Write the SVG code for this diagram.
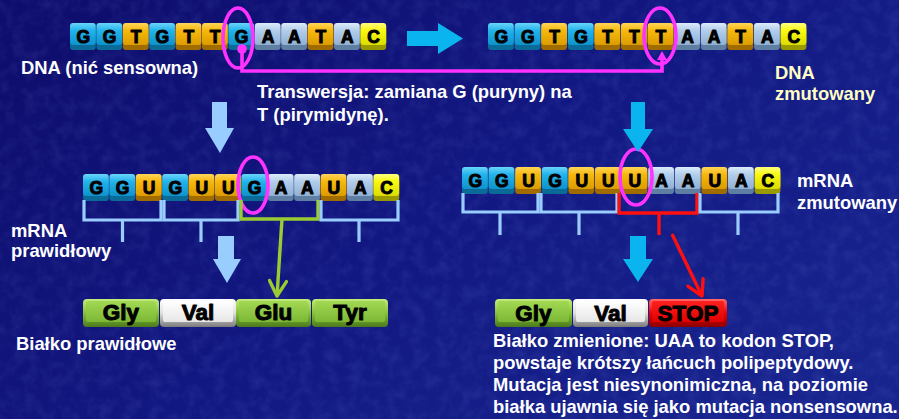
<svg xmlns="http://www.w3.org/2000/svg" xmlns:xlink="http://www.w3.org/1999/xlink" width="899" height="419" viewBox="0 0 899 419">
<defs>
<style>
.lbl{font-family:"Liberation Sans",Arial,sans-serif;font-weight:bold;font-size:18.4px;fill:#ffffff}
.lblY{font-family:"Liberation Sans",Arial,sans-serif;font-weight:bold;font-size:18.4px;fill:#ffffc4}
.base{font-family:"Liberation Sans",Arial,sans-serif;font-weight:bold;font-size:17.5px;fill:#000;text-anchor:middle;stroke:#000;stroke-width:1px;stroke-linejoin:round}
.aa{font-family:"Liberation Sans",Arial,sans-serif;font-weight:bold;font-size:22.5px;fill:#000;text-anchor:middle;stroke:#000;stroke-width:1px;stroke-linejoin:round}
.brB{fill:none;stroke:#99ccff;stroke-width:3.2}
.brG{fill:none;stroke:#99cc33;stroke-width:3.4}
.brR{fill:none;stroke:#ff1010;stroke-width:3.4}
.arLB{fill:#99ccff}
.arC{fill:#0ab4ee}
.mag{fill:none;stroke:#ff33ff;stroke-width:3.6}
</style>
<linearGradient id="bg" x1="0" y1="0.2" x2="1" y2="0.8">
<stop offset="0" stop-color="#0e0e6e"/><stop offset="0.5" stop-color="#121882"/><stop offset="1" stop-color="#18248e"/>
</linearGradient>
<filter id="noise" x="0" y="0" width="1" height="1">
<feTurbulence type="fractalNoise" baseFrequency="0.08" numOctaves="3" seed="7"/>
<feColorMatrix type="matrix" values="0 0 0 0 0.3  0 0 0 0 0.4  0 0 0 0 1  0 0 0 -0.9 0.55"/>
</filter>
<linearGradient id="gG" x1="0" y1="0" x2="0" y2="1"><stop offset="0" stop-color="#6ad6fa"/><stop offset="0.35" stop-color="#22b2ea"/><stop offset="1" stop-color="#0e92cc"/></linearGradient>
<linearGradient id="gT" x1="0" y1="0" x2="0" y2="1"><stop offset="0" stop-color="#ffd65a"/><stop offset="0.35" stop-color="#f6b80c"/><stop offset="1" stop-color="#dc9c00"/></linearGradient>
<linearGradient id="gA" x1="0" y1="0" x2="0" y2="1"><stop offset="0" stop-color="#dcebfa"/><stop offset="0.35" stop-color="#b2cdea"/><stop offset="1" stop-color="#90b0d4"/></linearGradient>
<linearGradient id="gC" x1="0" y1="0" x2="0" y2="1"><stop offset="0" stop-color="#ffff80"/><stop offset="0.35" stop-color="#f8f810"/><stop offset="1" stop-color="#dcdc00"/></linearGradient>
<symbol id="tG" overflow="visible"><rect y="4" width="25.8" height="23" rx="3" fill="#0a6a98"/><rect width="25.8" height="22" rx="3" fill="url(#gG)"/></symbol>
<symbol id="tT" overflow="visible"><rect y="4" width="25.8" height="23" rx="3" fill="#a06c00"/><rect width="25.8" height="22" rx="3" fill="url(#gT)"/></symbol>
<symbol id="tA" overflow="visible"><rect y="4" width="25.8" height="23" rx="3" fill="#5e7ea2"/><rect width="25.8" height="22" rx="3" fill="url(#gA)"/></symbol>
<symbol id="tC" overflow="visible"><rect y="4" width="25.8" height="23" rx="3" fill="#9a9a00"/><rect width="25.8" height="22" rx="3" fill="url(#gC)"/></symbol>
<linearGradient id="pGo" x1="0" y1="0" x2="0" y2="1"><stop offset="0" stop-color="#c4ec7c"/><stop offset="0.5" stop-color="#86c23a"/><stop offset="1" stop-color="#4c7a1c"/></linearGradient>
<linearGradient id="pGi" x1="0" y1="0" x2="0" y2="1"><stop offset="0" stop-color="#a2d854"/><stop offset="1" stop-color="#7cb834"/></linearGradient>
<linearGradient id="pWo" x1="0" y1="0" x2="0" y2="1"><stop offset="0" stop-color="#ffffff"/><stop offset="0.5" stop-color="#e0e0e0"/><stop offset="1" stop-color="#7a7a7a"/></linearGradient>
<linearGradient id="pWi" x1="0" y1="0" x2="0" y2="1"><stop offset="0" stop-color="#ffffff"/><stop offset="1" stop-color="#e6e6e6"/></linearGradient>
<linearGradient id="pRo" x1="0" y1="0" x2="0" y2="1"><stop offset="0" stop-color="#ff6a6a"/><stop offset="0.5" stop-color="#f00000"/><stop offset="1" stop-color="#8a0000"/></linearGradient>
<linearGradient id="pRi" x1="0" y1="0" x2="0" y2="1"><stop offset="0" stop-color="#ff2020"/><stop offset="1" stop-color="#e00000"/></linearGradient>
<marker id="mGreen" markerUnits="userSpaceOnUse" viewBox="-18 -10 20 20" refX="0" refY="0" markerWidth="20" markerHeight="20" orient="auto"><path d="M-15,-8.5 L0,0 L-15,8.5" fill="none" stroke="#99cc33" stroke-width="3.4" stroke-linecap="round" stroke-linejoin="round"/></marker>
<marker id="mRed" markerUnits="userSpaceOnUse" viewBox="-18 -10 20 20" refX="0" refY="0" markerWidth="20" markerHeight="20" orient="auto"><path d="M-15,-8.5 L0,0 L-15,8.5" fill="none" stroke="#ff1010" stroke-width="3.4" stroke-linecap="round" stroke-linejoin="round"/></marker>
</defs>

<rect width="899" height="419" fill="url(#bg)"/>
<rect width="899" height="419" filter="url(#noise)" opacity="0.22"/>

<g id="dna-sense">
<use href="#tG" x="70" y="23"/><use href="#tG" x="96.4" y="23"/><use href="#tT" x="122.8" y="23"/><use href="#tG" x="149.2" y="23"/><use href="#tT" x="175.6" y="23"/><use href="#tT" x="202" y="23"/><use href="#tG" x="228.4" y="23"/><use href="#tA" x="254.8" y="23"/><use href="#tA" x="281.2" y="23"/><use href="#tT" x="307.6" y="23"/><use href="#tA" x="334" y="23"/><use href="#tC" x="360.4" y="23"/>
<text class="base" x="83.2" y="43">G</text><text class="base" x="109.6" y="43">G</text><text class="base" x="136" y="43">T</text><text class="base" x="162.4" y="43">G</text><text class="base" x="188.8" y="43">T</text><text class="base" x="215.2" y="43">T</text><text class="base" x="241.6" y="43">G</text><text class="base" x="268" y="43">A</text><text class="base" x="294.4" y="43">A</text><text class="base" x="320.8" y="43">T</text><text class="base" x="347.2" y="43">A</text><text class="base" x="373.6" y="43">C</text>
<ellipse class="mag" cx="238" cy="38" rx="15" ry="30"/>
<text class="lbl" x="21" y="74">DNA (nić sensowna)</text>
</g>

<g id="dna-mutant">
<use href="#tG" x="488" y="23"/><use href="#tG" x="514.6" y="23"/><use href="#tT" x="541.2" y="23"/><use href="#tG" x="567.8" y="23"/><use href="#tT" x="594.4" y="23"/><use href="#tT" x="621" y="23"/><use href="#tT" x="647.6" y="23"/><use href="#tA" x="674.2" y="23"/><use href="#tA" x="700.8" y="23"/><use href="#tT" x="727.4" y="23"/><use href="#tA" x="754" y="23"/><use href="#tC" x="780.6" y="23"/>
<text class="base" x="501.3" y="43">G</text><text class="base" x="527.9" y="43">G</text><text class="base" x="554.5" y="43">T</text><text class="base" x="581.1" y="43">G</text><text class="base" x="607.7" y="43">T</text><text class="base" x="634.3" y="43">T</text><text class="base" x="660.9" y="43">T</text><text class="base" x="687.5" y="43">A</text><text class="base" x="714.1" y="43">A</text><text class="base" x="740.7" y="43">T</text><text class="base" x="767.3" y="43">A</text><text class="base" x="793.9" y="43">C</text>
<ellipse class="mag" cx="660" cy="36" rx="16" ry="28"/>
<text class="lblY" x="775" y="79">DNA</text>
<text class="lblY" x="775" y="100">zmutowany</text>
</g>

<g id="transversion-label">
<text class="lbl" x="257" y="98">Transwersja: zamiana G (puryny) na</text>
<text class="lbl" x="257" y="121">T (pirymidynę).</text>
</g>

<g id="mrna-normal">
<use href="#tG" x="83" y="174"/><use href="#tG" x="109.4" y="174"/><use href="#tT" x="135.8" y="174"/><use href="#tG" x="162.2" y="174"/><use href="#tT" x="188.6" y="174"/><use href="#tT" x="215" y="174"/><use href="#tG" x="241.4" y="174"/><use href="#tA" x="267.8" y="174"/><use href="#tA" x="294.2" y="174"/><use href="#tT" x="320.6" y="174"/><use href="#tA" x="347" y="174"/><use href="#tC" x="373.4" y="174"/>
<text class="base" x="96.2" y="194">G</text><text class="base" x="122.6" y="194">G</text><text class="base" x="149" y="194">U</text><text class="base" x="175.4" y="194">G</text><text class="base" x="201.8" y="194">U</text><text class="base" x="228.2" y="194">U</text><text class="base" x="254.6" y="194">G</text><text class="base" x="281" y="194">A</text><text class="base" x="307.4" y="194">A</text><text class="base" x="333.8" y="194">U</text><text class="base" x="360.2" y="194">A</text><text class="base" x="386.6" y="194">C</text>
<ellipse class="mag" cx="253" cy="185" rx="15" ry="28"/>
<path class="brB" d="M84,200 V220 H161 V200 M122.5,220 V242"/>
<path class="brB" d="M164,200 V220 H238 V200 M201,220 V242"/>
<path class="brG" d="M241,200 V219 H318 V200"/>
<path class="brB" d="M321,200 V220 H398 V200 M359,220 V242"/>
<text class="lbl" x="11" y="237">mRNA</text>
<text class="lbl" x="11" y="257">prawidłowy</text>
</g>

<g id="mrna-mutant">
<use href="#tG" x="462" y="167"/><use href="#tG" x="488.6" y="167"/><use href="#tT" x="515.2" y="167"/><use href="#tG" x="541.8" y="167"/><use href="#tT" x="568.4" y="167"/><use href="#tT" x="595" y="167"/><use href="#tT" x="621.6" y="167"/><use href="#tA" x="648.2" y="167"/><use href="#tA" x="674.8" y="167"/><use href="#tT" x="701.4" y="167"/><use href="#tA" x="728" y="167"/><use href="#tC" x="754.6" y="167"/>
<text class="base" x="475.3" y="187">G</text><text class="base" x="501.9" y="187">G</text><text class="base" x="528.5" y="187">U</text><text class="base" x="555.1" y="187">G</text><text class="base" x="581.7" y="187">U</text><text class="base" x="608.3" y="187">U</text><text class="base" x="634.9" y="187">U</text><text class="base" x="661.5" y="187">A</text><text class="base" x="688.1" y="187">A</text><text class="base" x="714.7" y="187">U</text><text class="base" x="741.3" y="187">A</text><text class="base" x="767.9" y="187">C</text>
<ellipse class="mag" cx="636" cy="177" rx="16" ry="28"/>
<path class="brB" d="M463,193 V212 H538 V193 M500,212 V235"/>
<path class="brB" d="M541,193 V212 H617 V193 M579,212 V235"/>
<path class="brR" d="M619,193 V213 H697 V193 M659,213 V235"/>
<path class="brB" d="M700,193 V212 H778 V193 M738,212 V235"/>
<text class="lbl" x="797" y="187">mRNA</text>
<text class="lbl" x="797" y="209">zmutowany</text>
</g>

<g id="protein-normal">
<rect x="83" y="299" width="76" height="28" rx="4" fill="url(#pGo)"/><rect x="86" y="301" width="70" height="21" rx="2" fill="url(#pGi)"/>
<rect x="160" y="299" width="76" height="28" rx="4" fill="url(#pWo)"/><rect x="163" y="301" width="70" height="21" rx="2" fill="url(#pWi)"/>
<rect x="236" y="299" width="75" height="28" rx="4" fill="url(#pGo)"/><rect x="239" y="301" width="69" height="21" rx="2" fill="url(#pGi)"/>
<rect x="312" y="299" width="76" height="28" rx="4" fill="url(#pGo)"/><rect x="315" y="301" width="70" height="21" rx="2" fill="url(#pGi)"/>
<text class="aa" x="121" y="320">Gly</text>
<text class="aa" x="198" y="320">Val</text>
<text class="aa" x="273.5" y="320">Glu</text>
<text class="aa" x="350" y="320">Tyr</text>
<text class="lbl" x="16" y="350">Białko prawidłowe</text>
</g>

<g id="protein-mutant">
<rect x="495" y="299" width="77" height="28" rx="4" fill="url(#pGo)"/><rect x="498" y="301" width="71" height="21" rx="2" fill="url(#pGi)"/>
<rect x="573" y="299" width="75" height="28" rx="4" fill="url(#pWo)"/><rect x="576" y="301" width="69" height="21" rx="2" fill="url(#pWi)"/>
<rect x="649" y="299" width="78" height="28" rx="4" fill="url(#pRo)"/><rect x="652" y="301" width="72" height="21" rx="2" fill="url(#pRi)"/>
<text class="aa" x="533.5" y="321">Gly</text>
<text class="aa" x="610.5" y="321">Val</text>
<text class="aa" x="688" y="321">STOP</text>
<text class="lbl" x="493" y="347">Białko zmienione: UAA to kodon STOP,</text>
<text class="lbl" x="493" y="369">powstaje krótszy łańcuch polipeptydowy.</text>
<text class="lbl" x="493" y="391">Mutacja jest niesynonimiczna, na poziomie</text>
<text class="lbl" x="493" y="413">białka ujawnia się jako mutacja nonsensowna.</text>
</g>

<g id="connectors">
<polygon class="arC" points="407,31 438,31 438,23 463,38.5 438,54 438,46 407,46"/>
<polygon class="arLB" points="212,102 227,102 227,128 234,128 220,153 205,128 212,128"/>
<polygon class="arLB" points="218,236 234,236 234,259 241,259 227,283 213,259 218,259"/>
<polygon class="arC" points="631,102 645,102 645,129 653,129 638,152 623,129 631,129"/>
<polygon class="arC" points="630,236 646,236 646,259 653,259 638,282 623,259 630,259"/>
<circle cx="242" cy="49" r="4.8" fill="#ff33ff"/>
<path class="mag" d="M242,49 V71 H662 V58"/>
<polygon points="662,51 667,60 657,60" fill="#ff33ff"/>
<path d="M282,219 L277,296" fill="none" stroke="#99cc33" stroke-width="3.4" marker-end="url(#mGreen)"/>
<path d="M672,234 L702,296" fill="none" stroke="#ff1010" stroke-width="3.4" marker-end="url(#mRed)"/>
</g>
</svg>
